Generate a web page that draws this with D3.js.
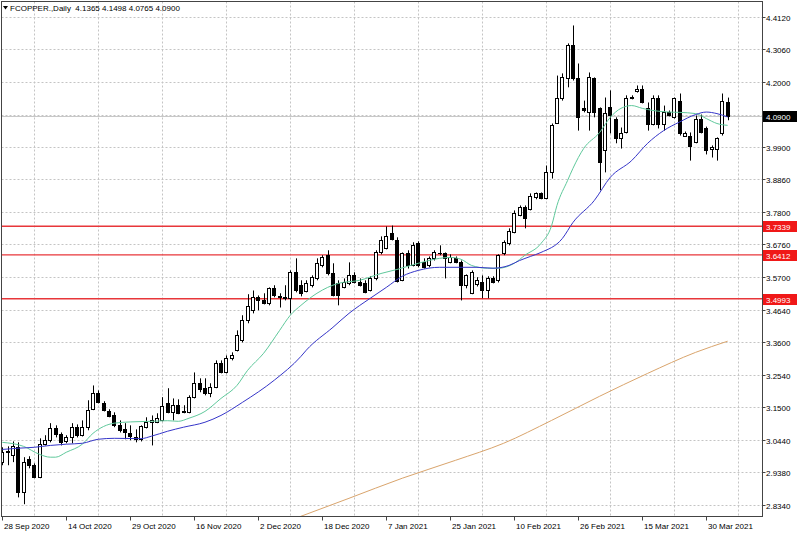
<!DOCTYPE html>
<html><head><meta charset="utf-8">
<script src="https://cdn.jsdelivr.net/npm/d3@7"></script>
<style>
body{margin:0;background:#fff}
svg{display:block}
text{font-family:"Liberation Sans",Arial,sans-serif;font-size:8px;fill:#000}
</style>
</head><body><svg id="c" width="800" height="533"></svg>
<script>
// ---------- data ----------
const opens=[2.971,3.003,2.993,3.019,2.874,2.980,2.961,2.922,3.029,3.042,3.080,3.061,3.038,3.051,3.084,3.058,3.084,3.142,3.194,3.161,3.135,3.122,3.090,3.077,3.064,3.051,3.045,3.084,3.100,3.100,3.106,3.161,3.132,3.155,3.135,3.132,3.181,3.226,3.210,3.194,3.213,3.290,3.261,3.307,3.333,3.365,3.430,3.462,3.504,3.494,3.484,3.533,3.507,3.504,3.501,3.585,3.543,3.523,3.543,3.565,3.607,3.640,3.581,3.549,3.536,3.549,3.575,3.552,3.549,3.526,3.565,3.649,3.662,3.711,3.688,3.559,3.646,3.607,3.678,3.617,3.607,3.630,3.646,3.646,3.617,3.630,3.617,3.543,3.517,3.546,3.552,3.526,3.565,3.559,3.646,3.678,3.714,3.769,3.795,3.791,3.827,3.840,3.824,3.908,4.069,4.150,4.212,4.321,4.212,4.115,4.102,4.212,4.115,3.979,4.118,4.082,4.018,4.037,4.147,4.170,4.179,4.115,4.066,4.150,4.066,4.102,4.086,4.140,4.027,4.027,4.005,4.082,4.050,3.982,3.985,4.034,4.1365];
const highs=[3.019,3.022,3.038,3.035,2.987,2.990,2.967,3.048,3.058,3.097,3.090,3.067,3.058,3.097,3.093,3.106,3.171,3.219,3.203,3.168,3.142,3.132,3.106,3.097,3.090,3.077,3.090,3.116,3.122,3.129,3.181,3.210,3.177,3.174,3.155,3.187,3.261,3.242,3.242,3.226,3.300,3.300,3.316,3.326,3.397,3.446,3.514,3.526,3.510,3.517,3.536,3.543,3.517,3.543,3.591,3.630,3.559,3.559,3.575,3.630,3.640,3.656,3.614,3.559,3.565,3.617,3.585,3.565,3.559,3.572,3.656,3.701,3.733,3.736,3.698,3.649,3.656,3.682,3.685,3.630,3.636,3.656,3.672,3.649,3.643,3.636,3.623,3.578,3.591,3.569,3.575,3.572,3.572,3.643,3.688,3.727,3.785,3.801,3.801,3.840,3.843,3.843,3.930,4.066,4.221,4.228,4.325,4.383,4.260,4.140,4.231,4.215,4.118,4.150,4.173,4.086,4.053,4.157,4.157,4.189,4.189,4.134,4.157,4.157,4.124,4.108,4.150,4.163,4.040,4.037,4.092,4.095,4.056,3.995,4.021,4.163,4.1498];
const lows=[2.961,2.961,2.971,2.857,2.835,2.951,2.919,2.919,3.025,3.035,3.051,3.025,3.032,3.032,3.051,3.054,3.074,3.139,3.161,3.135,3.116,3.084,3.067,3.045,3.042,3.035,3.038,3.080,3.025,3.097,3.103,3.129,3.106,3.126,3.129,3.129,3.177,3.197,3.187,3.181,3.210,3.258,3.258,3.300,3.329,3.358,3.420,3.452,3.462,3.481,3.478,3.504,3.471,3.494,3.452,3.520,3.507,3.520,3.536,3.559,3.601,3.575,3.507,3.478,3.533,3.543,3.549,3.539,3.517,3.523,3.559,3.643,3.659,3.688,3.552,3.556,3.597,3.604,3.601,3.597,3.601,3.623,3.640,3.565,3.614,3.614,3.494,3.533,3.514,3.539,3.501,3.501,3.549,3.552,3.640,3.672,3.711,3.766,3.727,3.785,3.821,3.821,3.821,3.888,4.066,4.140,4.183,4.205,4.043,4.102,4.043,4.086,3.850,3.908,4.034,4.002,3.985,4.034,4.144,4.166,4.131,4.043,4.060,4.050,4.043,4.089,4.082,4.027,4.024,3.946,4.002,4.034,3.966,3.956,3.946,4.027,4.0765];
const closes=[3.003,3.006,3.022,2.874,2.971,2.961,2.922,3.029,3.042,3.080,3.061,3.035,3.051,3.084,3.058,3.084,3.139,3.194,3.164,3.139,3.119,3.090,3.074,3.067,3.054,3.045,3.087,3.100,3.106,3.113,3.152,3.132,3.155,3.129,3.132,3.181,3.226,3.207,3.194,3.213,3.290,3.261,3.307,3.316,3.381,3.430,3.475,3.504,3.494,3.484,3.533,3.510,3.504,3.501,3.585,3.526,3.517,3.549,3.569,3.614,3.633,3.581,3.510,3.510,3.552,3.575,3.552,3.543,3.520,3.565,3.649,3.688,3.701,3.694,3.556,3.646,3.607,3.672,3.607,3.601,3.630,3.649,3.647,3.630,3.633,3.617,3.543,3.575,3.585,3.559,3.526,3.565,3.552,3.640,3.682,3.720,3.775,3.795,3.762,3.830,3.840,3.824,3.908,4.060,4.150,4.215,4.321,4.212,4.086,4.111,4.215,4.102,3.940,4.099,4.092,4.018,4.034,4.147,4.153,4.179,4.134,4.066,4.150,4.066,4.102,4.092,4.147,4.034,4.034,3.992,4.082,4.037,3.979,3.989,4.018,4.140,4.0900];

// moving averages, sampled at bar indices
const maFastIdx=[0,4,7,9,10,12,15,17,21,24,28,31,33,35,38,41,44,46,49,52,54,56,59,61,63,67,71,74,78,82,84,86,88,91,93,96,98,101,103,104,106,107,109,112,114,116,118,120,122,125,127,130,132,134,136];
const maFastVal=[3.035,3.022,2.996,2.987,2.987,3.003,3.029,3.064,3.097,3.101,3.103,3.105,3.103,3.113,3.135,3.177,3.219,3.268,3.323,3.397,3.446,3.478,3.517,3.536,3.549,3.559,3.581,3.594,3.614,3.630,3.633,3.627,3.607,3.598,3.598,3.614,3.640,3.678,3.736,3.801,3.882,3.921,3.985,4.037,4.086,4.115,4.124,4.115,4.108,4.103,4.102,4.098,4.082,4.066,4.060];
const maSlowIdx=[0,3,6,9,12,15,18,21,26,28,31,34,38,41,45,51,56,57,62,65,69,72,75,78,82,86,89,92,95,97,99,101,105,107,111,114,118,121,124,127,130,132,134,136];
const maSlowVal=[3.012,3.016,3.019,3.025,3.029,3.032,3.045,3.048,3.047,3.055,3.071,3.084,3.100,3.122,3.164,3.236,3.313,3.333,3.407,3.452,3.501,3.536,3.572,3.591,3.601,3.601,3.601,3.598,3.607,3.623,3.636,3.649,3.694,3.746,3.817,3.892,3.946,4.002,4.043,4.071,4.095,4.103,4.098,4.087];
const maLongIdx=[52,56,65,75,85,94,103,112,121,130,136];
const maLongVal=[2.770,2.796,2.854,2.919,2.977,3.032,3.106,3.184,3.258,3.326,3.362];

const dateLabels=["28 Sep 2020","14 Oct 2020","29 Oct 2020","16 Nov 2020","2 Dec 2020","18 Dec 2020","7 Jan 2021","25 Jan 2021","10 Feb 2021","26 Feb 2021","15 Mar 2021","30 Mar 2021"];
const dateLabelIdx=[0,12,24,36,48,60,72,84,96,108,120,132];
const gridIdx=[6,18,30,42,54,66,78,90,102,114,126,138];
const priceTicks=[4.412,4.306,4.200,4.095,3.990,3.886,3.780,3.676,3.570,3.464,3.360,3.254,3.150,3.044,2.938,2.834];
const priceTickLabels=["4.4120","4.3060","4.2000","","3.9900","3.8860","3.7800","3.6760","3.5700","3.4640","3.3600","3.2540","3.1500","3.0440","2.9380","2.8340"];
const levels=[3.7339,3.6412,3.4993];
const lastPrice=4.0900;
const titleText="FCOPPER.,Daily  4.1365 4.1498 4.0765 4.0900";

// ---------- layout ----------
const L=1.5,R=762.5,T=1.5,B=516.5;
const svg=d3.select("#c");
const x=d3.scaleLinear().domain([0,136]).range([2.3,2.3+136*5.3333]);
const y=d3.scaleLinear().domain([2.834,4.412]).range([504.5,16.5]);
const px=v=>Math.round(v)+0.5;

svg.append("defs").append("clipPath").attr("id","clip")
  .append("rect").attr("x",L).attr("y",T).attr("width",R-L).attr("height",B-T);
const plot=svg.append("g").attr("clip-path","url(#clip)");

// grid
plot.append("g").selectAll("line.hg").data(priceTicks).join("line").attr("class","hg")
  .attr("x1",L).attr("x2",R).attr("y1",d=>px(y(d))).attr("y2",d=>px(y(d)))
  .attr("stroke","#c4c4c4").attr("stroke-dasharray","2,2");
plot.append("g").selectAll("line.vg").data(gridIdx).join("line").attr("class","vg")
  .attr("x1",d=>px(x(d))).attr("x2",d=>px(x(d))).attr("y1",T).attr("y2",B)
  .attr("stroke","#c4c4c4").attr("stroke-dasharray","2,2");

// last price line
plot.append("line").attr("x1",L).attr("x2",R).attr("y1",px(y(lastPrice))).attr("y2",px(y(lastPrice)))
  .attr("stroke","#c8c8c8").attr("stroke-width",1);

// level lines
plot.append("g").selectAll("line.lv").data(levels).join("line").attr("class","lv")
  .attr("x1",L).attr("x2",R).attr("y1",d=>y(d)).attr("y2",d=>y(d))
  .attr("stroke","#e8363a").attr("stroke-width",1.4);

// MA lines
function maLine(idx,val,color){
  const pts=idx.map((d,k)=>[x(d),y(val[k])]);
  plot.append("path").attr("d",d3.line().curve(d3.curveMonotoneX)(pts))
    .attr("fill","none").attr("stroke",color).attr("stroke-width",1);
}
maLine(maLongIdx,maLongVal,"#d9a46c");

// candles
const bars=d3.range(opens.length);
const cg=plot.append("g");
cg.selectAll("line.wk").data(bars).join("line").attr("class","wk")
  .attr("x1",i=>px(x(i))).attr("x2",i=>px(x(i)))
  .attr("y1",i=>y(highs[i])).attr("y2",i=>y(lows[i]))
  .attr("stroke","#000").attr("stroke-width",1);
cg.selectAll("rect.bd").data(bars).join("rect").attr("class","bd")
  .attr("x",i=>Math.round(x(i))-1.5).attr("width",3)
  .attr("y",i=>px(y(Math.max(opens[i],closes[i]))))
  .attr("height",i=>Math.max(0.01,Math.round(y(Math.min(opens[i],closes[i])))-Math.round(y(Math.max(opens[i],closes[i])))))
  .attr("fill",i=>closes[i]>=opens[i]?"#fff":"#000")
  .attr("stroke","#000").attr("stroke-width",1);

maLine(maFastIdx,maFastVal,"#5fc89b");
maLine(maSlowIdx,maSlowVal,"#3535c8");

// frame
svg.append("rect").attr("x",L).attr("y",T).attr("width",R-L).attr("height",B-T)
  .attr("fill","none").attr("stroke","#444").attr("stroke-width",1);

// y axis labels
const ya=svg.append("g");
priceTicks.forEach((v,k)=>{
  if(!priceTickLabels[k]) return;
  const yy=px(y(v));
  ya.append("line").attr("x1",R).attr("x2",R+3).attr("y1",yy).attr("y2",yy).attr("stroke","#444");
  ya.append("text").attr("x",766).attr("y",yy+3).text(priceTickLabels[k]);
});
// level labels
levels.forEach(v=>{
  const yy=px(y(v));
  ya.append("rect").attr("x",763).attr("y",yy-5.5).attr("width",34).attr("height",11).attr("fill","#f01818");
  ya.append("text").attr("x",766).attr("y",yy+3).style("fill","#fff").text(v.toFixed(4));
});
{
  const yy=px(y(lastPrice));
  ya.append("rect").attr("x",763).attr("y",yy-5.5).attr("width",34).attr("height",11).attr("fill","#000");
  ya.append("text").attr("x",766).attr("y",yy+3).style("fill","#fff").text(lastPrice.toFixed(4));
}

// x axis labels
const xa=svg.append("g");
dateLabelIdx.forEach((d,k)=>{
  const xx=px(x(d));
  xa.append("line").attr("x1",xx).attr("x2",xx).attr("y1",B).attr("y2",B+4).attr("stroke","#444");
  xa.append("text").attr("x",xx+1.5).attr("y",528.5).text(dateLabels[k]);
});

// title
svg.append("path").attr("d","M3,6 L8,6 L5.5,9.5 Z").attr("fill","#000");
svg.append("text").attr("x",10).attr("y",11).attr("xml:space","preserve").style("white-space","pre").text(titleText);
</script>
</body></html>
